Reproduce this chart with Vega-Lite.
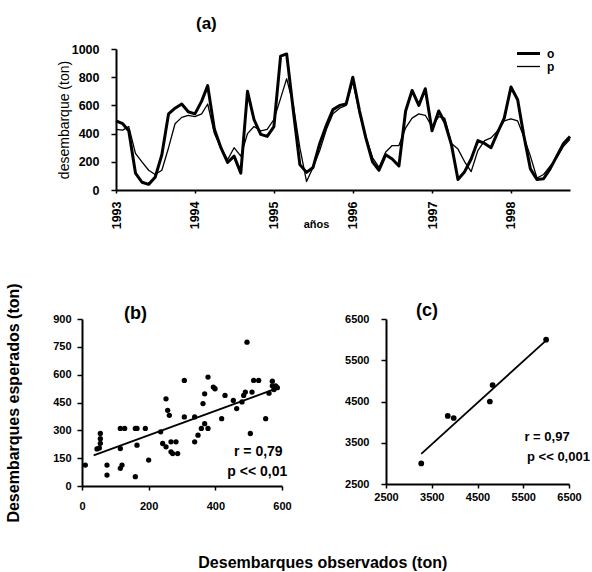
{
  "$schema": "https://vega.github.io/schema/vega-lite/v6.json",
  "background": "white",
  "padding": {"left": 5, "top": 15, "right": 0, "bottom": 0},
  "config": {
    "view": {"stroke": null},
    "font": "Liberation Sans",
    "axis": {"grid": false, "domainColor": "black", "domainWidth": 2, "tickColor": "black", "tickWidth": 1.5, "labelColor": "black", "titleColor": "black", "labelFont": "Liberation Sans", "titleFont": "Liberation Sans", "labelFontWeight": "bold", "titleFontWeight": "bold", "labelFlush": false, "labelOverlap": false},
    "title": {"font": "Liberation Sans", "fontWeight": "bold", "color": "black"}
  },
  "datasets": {
    "serie": [
      {"fecha": "1993-01-01", "o": 490, "p": 430}, {"fecha": "1993-02-01", "o": 470, "p": 425}, {"fecha": "1993-03-01", "o": 420, "p": 450}, {"fecha": "1993-04-01", "o": 120, "p": 260}, {"fecha": "1993-05-01", "o": 55, "p": 200}, {"fecha": "1993-06-01", "o": 40, "p": 140}, {"fecha": "1993-07-01", "o": 90, "p": 110}, {"fecha": "1993-08-01", "o": 250, "p": 140}, {"fecha": "1993-09-01", "o": 540, "p": 300}, {"fecha": "1993-10-01", "o": 580, "p": 470}, {"fecha": "1993-11-01", "o": 610, "p": 515}, {"fecha": "1993-12-01", "o": 555, "p": 530},
      {"fecha": "1994-01-01", "o": 540, "p": 520}, {"fecha": "1994-02-01", "o": 630, "p": 540}, {"fecha": "1994-03-01", "o": 740, "p": 610}, {"fecha": "1994-04-01", "o": 430, "p": 400}, {"fecha": "1994-05-01", "o": 300, "p": 300}, {"fecha": "1994-06-01", "o": 195, "p": 215}, {"fecha": "1994-07-01", "o": 240, "p": 300}, {"fecha": "1994-08-01", "o": 120, "p": 240}, {"fecha": "1994-09-01", "o": 700, "p": 400}, {"fecha": "1994-10-01", "o": 500, "p": 450}, {"fecha": "1994-11-01", "o": 395, "p": 420}, {"fecha": "1994-12-01", "o": 380, "p": 430},
      {"fecha": "1995-01-01", "o": 450, "p": 500}, {"fecha": "1995-02-01", "o": 950, "p": 650}, {"fecha": "1995-03-01", "o": 965, "p": 790}, {"fecha": "1995-04-01", "o": 560, "p": 600}, {"fecha": "1995-05-01", "o": 180, "p": 300}, {"fecha": "1995-06-01", "o": 125, "p": 60}, {"fecha": "1995-07-01", "o": 160, "p": 160}, {"fecha": "1995-08-01", "o": 330, "p": 280}, {"fecha": "1995-09-01", "o": 460, "p": 430}, {"fecha": "1995-10-01", "o": 570, "p": 540}, {"fecha": "1995-11-01", "o": 600, "p": 580}, {"fecha": "1995-12-01", "o": 610, "p": 600},
      {"fecha": "1996-01-01", "o": 800, "p": 770}, {"fecha": "1996-02-01", "o": 560, "p": 540}, {"fecha": "1996-03-01", "o": 370, "p": 380}, {"fecha": "1996-04-01", "o": 200, "p": 230}, {"fecha": "1996-05-01", "o": 140, "p": 160}, {"fecha": "1996-06-01", "o": 250, "p": 270}, {"fecha": "1996-07-01", "o": 220, "p": 315}, {"fecha": "1996-08-01", "o": 170, "p": 315}, {"fecha": "1996-09-01", "o": 560, "p": 440}, {"fecha": "1996-10-01", "o": 706, "p": 510}, {"fecha": "1996-11-01", "o": 600, "p": 540}, {"fecha": "1996-12-01", "o": 718, "p": 530},
      {"fecha": "1997-01-01", "o": 420, "p": 450}, {"fecha": "1997-02-01", "o": 560, "p": 520}, {"fecha": "1997-03-01", "o": 480, "p": 510}, {"fecha": "1997-04-01", "o": 320, "p": 330}, {"fecha": "1997-05-01", "o": 75, "p": 290}, {"fecha": "1997-06-01", "o": 130, "p": 200}, {"fecha": "1997-07-01", "o": 220, "p": 130}, {"fecha": "1997-08-01", "o": 350, "p": 280}, {"fecha": "1997-09-01", "o": 330, "p": 350}, {"fecha": "1997-10-01", "o": 300, "p": 370}, {"fecha": "1997-11-01", "o": 410, "p": 420}, {"fecha": "1997-12-01", "o": 510, "p": 490},
      {"fecha": "1998-01-01", "o": 730, "p": 505}, {"fecha": "1998-02-01", "o": 640, "p": 490}, {"fecha": "1998-03-01", "o": 390, "p": 380}, {"fecha": "1998-04-01", "o": 150, "p": 240}, {"fecha": "1998-05-01", "o": 75, "p": 85}, {"fecha": "1998-06-01", "o": 80, "p": 110}, {"fecha": "1998-07-01", "o": 150, "p": 170}, {"fecha": "1998-08-01", "o": 240, "p": 230}, {"fecha": "1998-09-01", "o": 330, "p": 310}, {"fecha": "1998-10-01", "o": 380, "p": 360}
    ],
    "b": [
      {"obs": 10, "esp": 113}, {"obs": 55, "esp": 283}, {"obs": 55, "esp": 255}, {"obs": 55, "esp": 230}, {"obs": 52, "esp": 205}, {"obs": 45, "esp": 200},
      {"obs": 75, "esp": 113}, {"obs": 75, "esp": 59}, {"obs": 115, "esp": 310}, {"obs": 128, "esp": 310}, {"obs": 115, "esp": 202}, {"obs": 120, "esp": 113}, {"obs": 115, "esp": 95},
      {"obs": 160, "esp": 310}, {"obs": 165, "esp": 310}, {"obs": 165, "esp": 220}, {"obs": 160, "esp": 50}, {"obs": 190, "esp": 310}, {"obs": 200, "esp": 140},
      {"obs": 236, "esp": 292}, {"obs": 242, "esp": 229}, {"obs": 252, "esp": 211}, {"obs": 267, "esp": 184}, {"obs": 272, "esp": 175}, {"obs": 252, "esp": 470},
      {"obs": 257, "esp": 408}, {"obs": 262, "esp": 381}, {"obs": 267, "esp": 238}, {"obs": 282, "esp": 238}, {"obs": 287, "esp": 175}, {"obs": 307, "esp": 372},
      {"obs": 307, "esp": 569}, {"obs": 338, "esp": 372}, {"obs": 338, "esp": 238}, {"obs": 348, "esp": 274}, {"obs": 358, "esp": 310}, {"obs": 363, "esp": 444},
      {"obs": 368, "esp": 497}, {"obs": 368, "esp": 336}, {"obs": 378, "esp": 310}, {"obs": 394, "esp": 533}, {"obs": 399, "esp": 524}, {"obs": 378, "esp": 587},
      {"obs": 419, "esp": 363}, {"obs": 429, "esp": 488}, {"obs": 454, "esp": 461}, {"obs": 464, "esp": 417}, {"obs": 480, "esp": 453}, {"obs": 485, "esp": 488},
      {"obs": 490, "esp": 506}, {"obs": 495, "esp": 775}, {"obs": 505, "esp": 283}, {"obs": 510, "esp": 506}, {"obs": 515, "esp": 569}, {"obs": 530, "esp": 569},
      {"obs": 551, "esp": 363}, {"obs": 561, "esp": 500}, {"obs": 571, "esp": 540}, {"obs": 576, "esp": 520}, {"obs": 581, "esp": 540}, {"obs": 586, "esp": 530}, {"obs": 571, "esp": 565}
    ],
    "bl": [{"obs": 35, "esp": 165}, {"obs": 590, "esp": 530}],
    "bt": [{"obs": 529, "esp": 181, "t": "r = 0,79"}, {"obs": 526, "esp": 77, "t": "p << 0,01"}],
    "c": [
      {"obs": 3270, "esp": 3000}, {"obs": 3850, "esp": 4150}, {"obs": 3980, "esp": 4100}, {"obs": 4770, "esp": 4500}, {"obs": 4830, "esp": 4900}, {"obs": 6000, "esp": 6000}
    ],
    "cl": [{"obs": 3270, "esp": 3230}, {"obs": 6020, "esp": 6000}],
    "ct": [{"obs": 6020, "esp": 3638, "t": "r = 0,97"}, {"obs": 6270, "esp": 3150, "t": "p << 0,001"}]
  },
  "spacing": 53,
  "vconcat": [
    {
      "columns": 2,
      "align": "none",
      "bounds": "flush",
      "spacing": 0,
      "concat": [
        {"width": 33.5, "height": 10, "data": {"values": []}, "mark": "point"},
        {
          "width": 454,
          "height": 141,
          "data": {"name": "serie"},
          "transform": [{"fold": ["o", "p"], "as": ["serie", "valor"]}],
          "title": {"text": "(a)", "anchor": "start", "frame": "group", "dx": 80, "offset": 10, "fontSize": 17},
          "mark": {"type": "line", "color": "black", "strokeJoin": "round"},
          "encoding": {
            "x": {
              "field": "fecha", "type": "temporal",
              "scale": {"type": "utc", "domain": [{"year": 1993, "month": 1, "date": 1, "utc": true}, {"year": 1998, "month": 10, "date": 1, "utc": true}]},
              "axis": {"format": "%Y", "tickCount": {"interval": "year", "step": 1}, "labelAngle": -90, "labelFontSize": 12.5, "tickSize": 3, "labelPadding": 8, "title": "años", "titleFontSize": 11, "titleX": 200, "titleY": 28, "titleAlign": "center", "titleBaseline": "top"}
            },
            "y": {
              "field": "valor", "type": "quantitative",
              "scale": {"domain": [0, 1000], "nice": false},
              "axis": {"values": [0, 200, 400, 600, 800, 1000], "format": "d", "labelFontSize": 12.5, "tickSize": 5, "labelPadding": 12, "title": "desembarque (ton)", "titleFontWeight": "normal", "titleFontSize": 14, "titlePadding": 0}
            },
            "strokeWidth": {
              "field": "serie", "type": "ordinal",
              "scale": {"domain": ["o", "p"], "range": [3, 1.3]},
              "legend": {"title": null, "orient": "none", "legendX": 439, "legendY": -3, "symbolType": "M-2,0H2", "symbolSize": 132, "symbolStrokeColor": "black", "labelFontSize": 12, "labelFontWeight": "bold", "labelFont": "Liberation Sans", "labelColor": "black", "rowPadding": 0, "labelOffset": 11, "padding": 0}
            }
          }
        }
      ]
    },
    {
      "spacing": 52,
      "title": {"text": "Desembarques observados (ton)", "orient": "bottom", "anchor": "middle", "fontSize": 16, "offset": 33, "dx": 25},
      "hconcat": [
        {
          "width": 200,
          "height": 167,
          "title": {"text": "(b)", "anchor": "start", "frame": "group", "dx": 42, "offset": -40, "fontSize": 18},
          "encoding": {
            "x": {"field": "obs", "type": "quantitative", "scale": {"domain": [0, 600], "nice": false}, "axis": {"values": [0, 200, 400, 600], "title": null, "labelFontSize": 11, "tickSize": 4, "labelPadding": 10}},
            "y": {"field": "esp", "type": "quantitative", "scale": {"domain": [0, 900], "nice": false}, "axis": {"values": [0, 150, 300, 450, 600, 750, 900], "title": "Desembarques esperados (ton)", "titleFontSize": 16, "titlePadding": 31, "labelFontSize": 11, "tickSize": 5, "labelPadding": 6}}
          },
          "layer": [
            {"data": {"name": "b"}, "mark": {"type": "circle", "color": "black", "size": 28, "opacity": 1}},
            {"data": {"name": "bl"}, "mark": {"type": "line", "color": "black", "strokeWidth": 1.8}},
            {"data": {"name": "bt"}, "mark": {"type": "text", "fontSize": 14, "fontWeight": "bold", "font": "Liberation Sans", "color": "black"}, "encoding": {"text": {"field": "t"}}}
          ]
        },
        {
          "width": 183,
          "height": 165,
          "title": {"text": "(c)", "anchor": "start", "frame": "group", "dx": 30, "offset": -7, "fontSize": 18},
          "encoding": {
            "x": {"field": "obs", "type": "quantitative", "scale": {"domain": [2500, 6500], "nice": false}, "axis": {"values": [2500, 3500, 4500, 5500, 6500], "format": "d", "title": null, "labelFontSize": 11, "tickSize": 4, "labelPadding": 3}},
            "y": {"field": "esp", "type": "quantitative", "scale": {"domain": [2500, 6500], "nice": false}, "axis": {"values": [2500, 3500, 4500, 5500, 6500], "format": "d", "title": null, "labelFontSize": 11, "tickSize": 5, "labelPadding": 12}}
          },
          "layer": [
            {"data": {"name": "c"}, "mark": {"type": "circle", "color": "black", "size": 33, "opacity": 1}},
            {"data": {"name": "cl"}, "mark": {"type": "line", "color": "black", "strokeWidth": 1.8}},
            {"data": {"name": "ct"}, "mark": {"type": "text", "fontSize": 13, "fontWeight": "bold", "font": "Liberation Sans", "color": "black"}, "encoding": {"text": {"field": "t"}}}
          ]
        }
      ]
    }
  ]
}
